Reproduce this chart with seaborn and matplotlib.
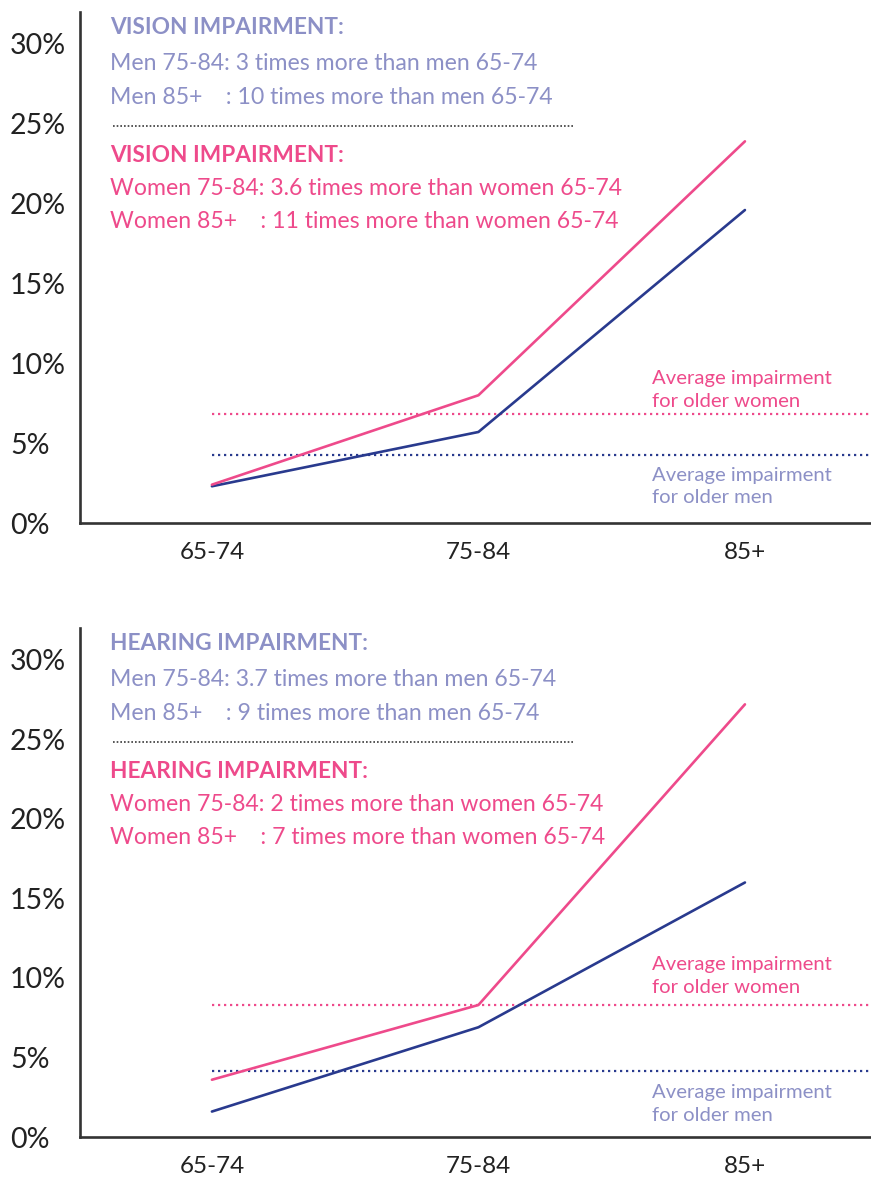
import matplotlib
matplotlib.use("Agg")
import matplotlib.pyplot as plt
import seaborn as sns
import pandas as pd

# ---- data -------------------------------------------------------------
ages = ["65-74", "75-84", "85+"]

vision_men = [2.3, 5.7, 19.6]
vision_women = [2.4, 8.0, 23.9]
vision_avg_men = 4.25
vision_avg_women = 6.85

hearing_men = [1.6, 6.9, 16.0]
hearing_women = [3.6, 8.3, 27.2]
hearing_avg_men = 4.15
hearing_avg_women = 8.3

y_ticks = [0, 5, 10, 15, 20, 25, 30]
y_tick_labels = ["0%", "5%", "10%", "15%", "20%", "25%", "30%"]

vision_men_notes = ["Men 75-84: 3 times more than men 65-74",
                    "Men 85+    : 10 times more than men 65-74"]
vision_women_notes = ["Women 75-84: 3.6 times more than women 65-74",
                      "Women 85+    : 11 times more than women 65-74"]
hearing_men_notes = ["Men 75-84: 3.7 times more than men 65-74",
                     "Men 85+    : 9 times more than men 65-74"]
hearing_women_notes = ["Women 75-84: 2 times more than women 65-74",
                       "Women 85+    : 7 times more than women 65-74"]

# ---- style ------------------------------------------------------------
PINK = "#EE4A8B"
NAVY = "#293A8E"
LAVENDER = "#8C90C6"
AXIS = "#333333"

sns.set_theme(style="white")
plt.rcParams["font.family"] = ["Lato", "DejaVu Sans"]

fig = plt.figure(figsize=(8.71, 11.8), dpi=100)
W, H = 871, 1180


def px_axes(left, top, right, bottom):
    return [left / W, 1 - bottom / H, (right - left) / W, (bottom - top) / H]


def draw_panel(ax, title, men, women, avg_men, avg_women,
               men_notes, women_notes, women_lbl_off, men_lbl_off):
    df = pd.DataFrame({
        "age": ages * 2,
        "value": list(men) + list(women),
        "sex": ["Men"] * 3 + ["Women"] * 3,
    })
    # average reference lines (dotted)
    dots = (0, (1.0, 1.7))
    ax.plot([0, 2.6], [avg_women, avg_women], color=PINK, lw=1.6,
            linestyle=dots, dash_capstyle="butt", zorder=1)
    ax.plot([0, 2.6], [avg_men, avg_men], color=NAVY, lw=1.6,
            linestyle=dots, dash_capstyle="butt", zorder=1)

    sns.lineplot(data=df, x="age", y="value", hue="sex",
                 palette={"Men": NAVY, "Women": PINK},
                 hue_order=["Men", "Women"], linewidth=1.9,
                 legend=False, ax=ax, zorder=3)

    ax.set_xlim(-0.495, 2.473)
    ax.set_ylim(0, 32)
    ax.set_xlabel("")
    ax.set_ylabel("")
    ax.set_yticks(y_ticks)
    ax.set_yticklabels(y_tick_labels, fontsize=20.5, color="#222222",
                       ha="left")
    ax.tick_params(axis="y", length=0, pad=50.4)
    ax.tick_params(axis="x", length=0, pad=13.5, labelsize=17.5,
                   labelcolor="#222222")
    for s in ["top", "right"]:
        ax.spines[s].set_visible(False)
    for s in ["left", "bottom"]:
        ax.spines[s].set_color(AXIS)
        ax.spines[s].set_linewidth(1.9)
    ax.grid(False)

    # annotation block in the upper left
    x0 = (110 - 80) / 791

    def note(txt, dy, color, weight="normal", size=16.6):
        ax.annotate(txt, xy=(x0, 1), xycoords="axes fraction",
                    xytext=(0, -dy), textcoords="offset pixels",
                    va="baseline", ha="left", fontsize=size,
                    color=color, fontweight=weight)

    note(title, 22, LAVENDER, "bold", 16.3)
    note(men_notes[0], 58, LAVENDER)
    note(men_notes[1], 92, LAVENDER)
    ax.plot([(113 - 80) / 791, (573 - 80) / 791], [0.776, 0.776],
            transform=ax.transAxes, color="#3a3a3a", lw=1.2,
            linestyle=(0, (1.0, 1.2)), clip_on=False)
    note(title, 150, PINK, "bold", 16.3)
    note(women_notes[0], 183, PINK)
    note(women_notes[1], 216, PINK)

    # labels for the average lines
    lx = (652 - 212) / 266.5
    ax.annotate("Average impairment\nfor older women", xy=(lx, avg_women),
                xytext=(0, women_lbl_off), textcoords="offset pixels",
                va="baseline", ha="left", fontsize=14.6, color=PINK,
                linespacing=1.4)
    ax.annotate("Average impairment\nfor older men", xy=(lx, avg_men),
                xytext=(0, men_lbl_off), textcoords="offset pixels",
                va="baseline", ha="left", fontsize=14.6, color=LAVENDER,
                linespacing=1.4)


ax1 = fig.add_axes(px_axes(80, 12, 871, 523))
draw_panel(ax1, "VISION IMPAIRMENT:", vision_men, vision_women,
           vision_avg_men, vision_avg_women,
           vision_men_notes, vision_women_notes, 7, -48)

ax2 = fig.add_axes(px_axes(80, 628, 871, 1137))
draw_panel(ax2, "HEARING IMPAIRMENT:", hearing_men, hearing_women,
           hearing_avg_men, hearing_avg_women,
           hearing_men_notes, hearing_women_notes, 12, -50)

fig.savefig("out.png", dpi=100)
